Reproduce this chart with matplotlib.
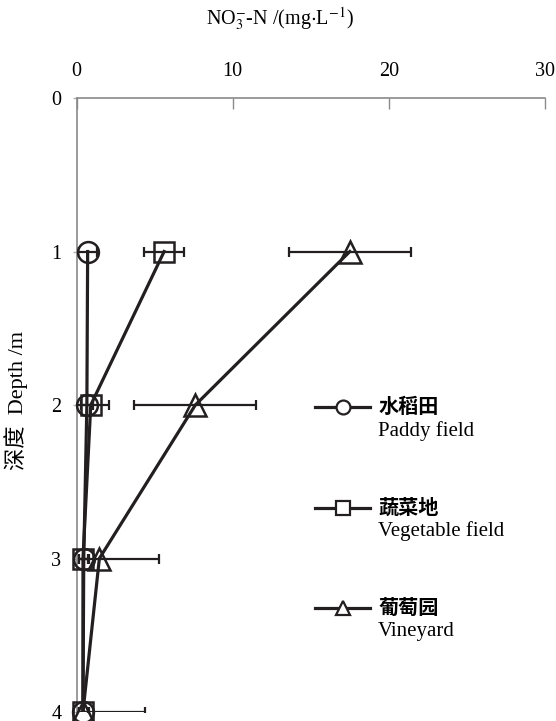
import matplotlib
matplotlib.use('Agg')
import matplotlib.pyplot as plt
import numpy as np

plt.rcParams['font.family'] = ['Liberation Serif', 'Noto Sans CJK SC']
plt.rcParams['mathtext.fontset'] = 'stix'

# Data (NO3-N, mg/L) by depth
depth = [1, 2, 3, 4]
paddy = [0.7, 0.65, 0.45, 0.4]
paddy_err = [0.6, 0.4, 0.3, 0.3]
vegetable = [5.6, 0.9, 0.4, 0.4]
vegetable_err = [1.3, 1.2, 0.4, 0.4]
vineyard = [17.5, 7.6, 1.45, 0.4]
vineyard_err = [3.9, 3.9, 3.85, 4.0]

names_cn = ['水稻田', '蔬菜地', '葡萄园']
names_en = ['Paddy field', 'Vegetable field', 'Vineyard']
markers = ['o', 's', '^']

ink = '#231f20'
fig = plt.figure(figsize=(5.56, 7.21), dpi=100)
ax = fig.add_axes([0.138, 0.0125, 0.842, 0.8515])

series = [(paddy, paddy_err), (vegetable, vegetable_err), (vineyard, vineyard_err)]
for (vals, err), m in zip(series, markers):
    ax.errorbar(vals, depth, xerr=err, fmt='none', ecolor=ink, elinewidth=1.6,
                capsize=3.5, capthick=1.6, zorder=2)
    ax.plot(vals, depth, '-', color=ink, lw=2.3, zorder=3)
    ax.plot(vals, depth, m, ms=15 if m != '^' else 16, mfc='none', mec=ink,
            mew=1.8, clip_on=False, zorder=4)

ax.set_xlim(0, 30)
ax.set_ylim(4, 0)
ax.xaxis.tick_top()
ax.xaxis.set_label_position('top')
ax.set_xticks([0, 10, 20, 30])
ax.set_yticks([0, 1, 2, 3, 4])
ax.tick_params(axis='x', direction='in', length=8, width=1, color='#8a8a8a',
               labelsize=14.5, pad=12)
ax.tick_params(axis='y', direction='out', length=3, width=1, color='#b0b0b0',
               labelsize=14.5, pad=8)
for s in ['right', 'bottom']:
    ax.spines[s].set_visible(False)
for s in ['left', 'top']:
    ax.spines[s].set_color('#8a8a8a')
    ax.spines[s].set_linewidth(1.2)

xl = ax.set_xlabel(r'NO$_3^{-}$-N /(mg$\cdot$L$^{-1}$)', fontsize=14.5)
xl.set_va('center')
ax.xaxis.set_label_coords(0.434, 1.128)
yl = ax.set_ylabel('深度  Depth /m', fontsize=16)
yl.set_va('center')
ax.yaxis.set_label_coords(-0.13, 0.507)

# legend drawn by hand
leg_y = [0.497, 0.333, 0.170]
en_y = [0.458, 0.295, 0.131]
for yy, ey, m, cn, en in zip(leg_y, en_y, markers, names_cn, names_en):
    ax.plot([0.509, 0.627], [yy, yy], '-', color=ink, lw=2.3,
            transform=ax.transAxes, clip_on=False)
    ax.plot([0.568], [yy], m, ms=10, mfc='white', mec=ink, mew=1.6,
            transform=ax.transAxes, clip_on=False)
    ax.text(0.644, yy, cn, transform=ax.transAxes, fontsize=14.5, fontweight='bold',
            va='center', ha='left', family=['Noto Sans CJK SC'])
    ax.text(0.644, ey, en, transform=ax.transAxes, fontsize=15,
            va='center', ha='left')

fig.savefig('out.png', dpi=100)
